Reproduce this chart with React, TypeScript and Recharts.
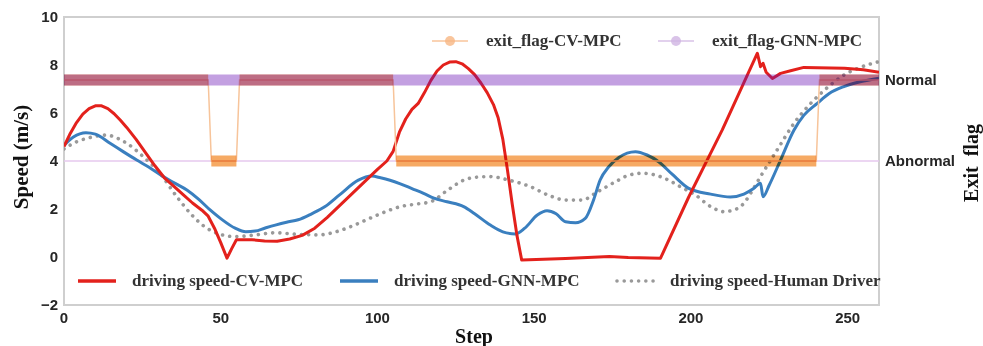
import React from 'react';
import { LineChart, Line, XAxis, YAxis, ReferenceArea, ReferenceLine } from 'recharts';

// driving speed (m/s) per step
const cvSteps = [0, 2, 4, 6, 8, 10, 12, 14, 16, 18, 20, 23, 26, 29, 32, 35, 38, 41, 44, 46, 48, 50, 52, 53.5, 55, 60, 64, 68, 72, 76, 80, 84, 88, 92, 96, 100, 103, 105, 107, 109, 111, 113, 115, 117, 119, 121, 123, 125, 127, 129, 131, 133, 135, 137, 138.5, 140, 141.5, 143, 144.5, 146, 160, 174, 180, 190.3, 199.3, 210, 221.2, 222.2, 223, 224, 226, 228.6, 231.8, 236, 249, 255, 260];
const cvSpeed = [4.6, 5.15, 5.6, 5.95, 6.18, 6.3, 6.3, 6.18, 5.97, 5.7, 5.4, 4.9, 4.35, 3.8, 3.3, 2.95, 2.6, 2.25, 1.95, 1.7, 1.2, 0.6, -0.05, 0.35, 0.72, 0.72, 0.67, 0.66, 0.75, 0.9, 1.2, 1.65, 2.15, 2.65, 3.15, 3.65, 4.0, 4.4, 5.2, 5.75, 6.15, 6.4, 6.85, 7.35, 7.75, 8.0, 8.12, 8.14, 8.05, 7.85, 7.6, 7.25, 6.85, 6.35, 5.8, 4.9, 3.6, 2.2, 0.9, -0.12, -0.06, 0.02, -0.02, -0.05, 2.5, 5.3, 8.49, 7.93, 8.07, 7.7, 7.44, 7.65, 7.76, 7.9, 7.86, 7.8, 7.7];

const gnnSteps = [0, 3, 7, 10, 14.7, 19, 23.2, 27, 31.7, 35, 39.2, 43, 46.6, 50, 54.6, 58, 61, 64, 67.4, 71, 74.7, 79, 83.3, 88, 93.9, 98.2, 101, 104, 107.3, 111, 114.7, 118, 122.2, 127.5, 131, 136, 140, 144, 147, 151, 154.1, 157, 160, 163.2, 166.3, 169, 171, 173.8, 177, 182.3, 186, 189.7, 194, 199.3, 206.3, 212.6, 216.9, 220, 222.2, 223, 225, 228.6, 232.9, 236, 240.3, 244, 248.8, 254, 260];
const gnnSpeed = [4.65, 5.0, 5.18, 5.12, 4.74, 4.38, 4.04, 3.75, 3.35, 3.1, 2.79, 2.4, 1.96, 1.6, 1.2, 1.05, 1.08, 1.2, 1.33, 1.45, 1.55, 1.8, 2.1, 2.6, 3.2, 3.37, 3.3, 3.2, 3.05, 2.85, 2.65, 2.45, 2.3, 2.1, 1.8, 1.33, 1.05, 0.96, 1.2, 1.75, 1.93, 1.8, 1.47, 1.43, 1.61, 2.4, 3.2, 3.76, 4.15, 4.39, 4.25, 3.97, 3.45, 2.86, 2.62, 2.5, 2.62, 2.85, 3.07, 2.51, 3.0, 4.04, 5.29, 5.9, 6.4, 6.8, 7.1, 7.3, 7.45];

const humanSteps = [0, 4, 7.2, 13.6, 17, 20, 25.3, 30.6, 36, 41.3, 45, 48.8, 54.6, 61, 67.4, 74, 81.2, 88, 93.9, 100, 104, 107.3, 112, 116.9, 122, 127.5, 132, 136, 142, 148.8, 155, 160, 165.3, 170, 176, 180, 184.4, 189, 192.9, 197, 201.5, 206.3, 210.5, 213.5, 216.9, 219.5, 222.2, 227.5, 232.9, 238.2, 243, 248.8, 254, 260];
const humanSpeed = [4.5, 4.8, 4.94, 5.08, 4.95, 4.74, 4.18, 3.49, 2.51, 1.68, 1.25, 0.99, 0.85, 0.92, 1.01, 0.95, 0.92, 1.1, 1.4, 1.75, 1.96, 2.1, 2.2, 2.3, 2.75, 3.2, 3.33, 3.35, 3.2, 2.93, 2.55, 2.37, 2.37, 2.7, 3.14, 3.4, 3.49, 3.4, 3.2, 2.9, 2.58, 2.1, 1.89, 1.95, 2.24, 2.75, 3.35, 4.46, 5.57, 6.4, 7.0, 7.58, 7.9, 8.14];

// exit flag: 1 = Normal, 0 = Abnormal
const cvFlagSteps = [0, 46, 47, 55, 56, 105, 106, 240, 241, 260];
const cvFlag = [1, 1, 0, 0, 1, 1, 0, 0, 1, 1];
const gnnFlagSteps = [0, 260];
const gnnFlag = [1, 1];

const xTicks = [0, 50, 100, 150, 200, 250];
const yTicks = [-2, 0, 2, 4, 6, 8, 10];
const flagTicks = [0, 1];
const flagLabels = ['Abnormal', 'Normal'];

const toRows = (steps: number[], vals: number[]) => steps.map((s, i) => ({ step: s, v: vals[i] }));

// thick band: break the line where the flag changes
const toBand = (steps: number[], vals: number[]) => {
  const out: { step: number; v: number | null }[] = [];
  steps.forEach((s, i) => {
    out.push({ step: s, v: vals[i] });
    if (i < steps.length - 1 && vals[i + 1] !== vals[i]) out.push({ step: (s + steps[i + 1]) / 2, v: null });
  });
  return out;
};

const cvData = toRows(cvSteps, cvSpeed);
const gnnData = toRows(gnnSteps, gnnSpeed);
const humanData = toRows(humanSteps, humanSpeed);
const cvFlagData = toRows(cvFlagSteps, cvFlag);
const cvBand = toBand(cvFlagSteps, cvFlag);
const gnnBand = toBand(gnnFlagSteps, gnnFlag);

const tickStyle = { fontFamily: '"Liberation Sans", Arial, sans-serif', fontWeight: 700, fontSize: 15, fill: '#262626' };
const serif = '"Liberation Serif", "Times New Roman", serif';

function LegendItem({ x, y, color, label, kind }: { x: number; y: number; color: string; label: string; kind: 'line' | 'dot' | 'flag' }) {
  return (
    <div style={{ position: 'absolute', left: x, top: y - 12, height: 24, display: 'flex', alignItems: 'center' }}>
      <svg width={44} height={24} style={{ marginRight: 12 }}>
        {kind === 'line' && <line x1={2} x2={40} y1={12} y2={12} stroke={color} strokeWidth={3.5} />}
        {kind === 'dot' && <line x1={3} x2={42} y1={12} y2={12} stroke={color} strokeWidth={3.6} strokeLinecap="round" strokeDasharray="0.01 7.2" />}
        {kind === 'flag' && (
          <>
            <line x1={2} x2={38} y1={12} y2={12} stroke={color} strokeWidth={2} opacity={0.6} />
            <circle cx={20} cy={12} r={5} fill={color} opacity={0.8} />
          </>
        )}
      </svg>
      <span style={{ fontFamily: serif, fontWeight: 700, fontSize: 17, color: '#333', whiteSpace: 'nowrap' }}>{label}</span>
    </div>
  );
}

export default function App() {
  return (
    <div style={{ position: 'absolute', left: 0, top: 0, width: 983, height: 346, background: '#fff', overflow: 'hidden' }}>
      <style>{`.flag-mult .recharts-line-curve { mix-blend-mode: multiply; }`}</style>
      <LineChart width={983} height={346} margin={{ top: 17, right: 0, left: 0, bottom: 0 }}>
        <XAxis type="number" dataKey="step" domain={[0, 260]} ticks={xTicks} allowDataOverflow
          axisLine={false} tickLine={false} tickSize={6} tickMargin={1} height={41} tick={tickStyle} />
        <YAxis yAxisId="speed" domain={[-2, 10]} ticks={yTicks} allowDataOverflow width={64}
          axisLine={false} tickLine={false} tickSize={6} tickMargin={0} tick={tickStyle}
          tickFormatter={(v: number) => (v < 0 ? '\u2212' + Math.abs(v) : String(v))} />
        <YAxis yAxisId="flag" orientation="right" domain={[-1.778, 1.778]} ticks={flagTicks} allowDataOverflow width={104}
          axisLine={false} tickLine={false} tickSize={6} tickMargin={0} tick={tickStyle}
          tickFormatter={(v: number) => flagLabels[v]} />
        <ReferenceArea yAxisId="speed" x1={0} x2={260} y1={-2} y2={10} fill="none" stroke="#cfcfcf" strokeWidth={2} ifOverflow="visible" />
        <ReferenceLine yAxisId="flag" y={0} stroke="#e6c8ee" strokeWidth={1.5} />

        <Line yAxisId="speed" data={humanData} dataKey="v" type="monotone" stroke="#999" strokeWidth={3.6}
          strokeDasharray="0.01 7.2" strokeLinecap="round" dot={false} isAnimationActive={false} />
        <Line yAxisId="speed" data={gnnData} dataKey="v" type="monotone" stroke="#3a7fbf" strokeWidth={3} dot={false} isAnimationActive={false} />
        <Line yAxisId="speed" data={cvData} dataKey="v" type="linear" stroke="#e3211c" strokeWidth={3}
          strokeLinejoin="round" dot={false} isAnimationActive={false} />

        <Line yAxisId="flag" data={cvFlagData} dataKey="v" type="linear" stroke="#f7c49a" strokeWidth={1.5} dot={false} isAnimationActive={false} />
        <Line className="flag-mult" yAxisId="flag" data={cvBand} dataKey="v" type="linear" stroke="#f6aa64" strokeWidth={11}
          strokeLinecap="butt" dot={false} isAnimationActive={false} />
        <Line yAxisId="flag" data={gnnBand} dataKey="v" type="linear" stroke="#6912b4" strokeOpacity={0.4} strokeWidth={11}
          strokeLinecap="butt" dot={false} isAnimationActive={false} />
      </LineChart>

      <LegendItem x={430} y={41} color="#f7b783" label="exit_flag-CV-MPC" kind="flag" />
      <LegendItem x={656} y={41} color="#cfb4e2" label="exit_flag-GNN-MPC" kind="flag" />
      <LegendItem x={76} y={281} color="#e3211c" label="driving speed-CV-MPC" kind="line" />
      <LegendItem x={338} y={281} color="#3a7fbf" label="driving speed-GNN-MPC" kind="line" />
      <LegendItem x={614} y={281} color="#999" label="driving speed-Human Driver" kind="dot" />

      <div style={{ position: 'absolute', left: 21, top: 157, transform: 'translate(-50%, -50%) rotate(-90deg)', fontFamily: serif, fontWeight: 700, fontSize: 21, color: '#111', whiteSpace: 'nowrap', lineHeight: '22px' }}>
        Speed (m/s)
      </div>
      <div style={{ position: 'absolute', left: 474, top: 326, transform: 'translateX(-50%)', fontFamily: serif, fontWeight: 700, fontSize: 20, color: '#111', whiteSpace: 'nowrap', lineHeight: '20px' }}>
        Step
      </div>
      <div style={{ position: 'absolute', left: 971, top: 163, transform: 'translate(-50%, -50%) rotate(-90deg)', fontFamily: serif, fontWeight: 700, fontSize: 20, color: '#111', whiteSpace: 'pre', lineHeight: '20px' }}>
        {'Exit  flag'}
      </div>
    </div>
  );
}
